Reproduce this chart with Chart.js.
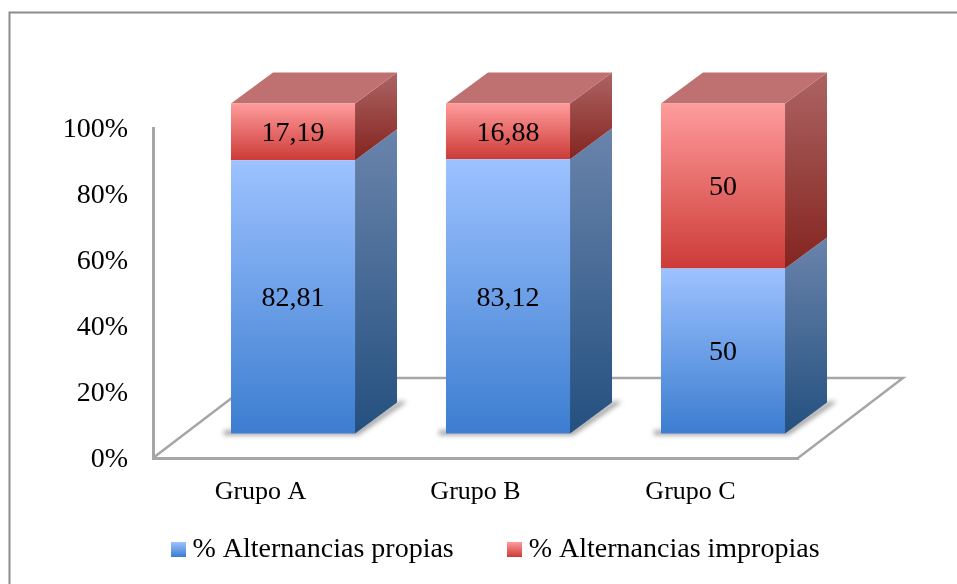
<!DOCTYPE html>
<html lang="es">
<head>
<meta charset="utf-8">
<title>Alternancias por grupo</title>
<style>
  html, body { margin: 0; padding: 0; background: #fff; }
  canvas { display: block; }
</style>
<script src="https://cdn.jsdelivr.net/npm/chart.js@4"></script>
</head>
<body>
<div style="width:957px;height:584px"><canvas id="grafico" width="957" height="584"></canvas></div>
<script>
const grupos = ['Grupo A', 'Grupo B', 'Grupo C'];
const propias = [82.81, 83.12, 50];
const impropias = [17.19, 16.88, 50];
const nombrePropias = '% Alternancias propias';
const nombreImpropias = '% Alternancias impropias';

const FONT = '"Liberation Serif", serif';
const FONT_SIZE = 26;
const NUMBER_SIZE = 28;
const LINE = '#A6A6A6';

// Oblique offset of the bars from the axis plane, of a bar's depth, and of the floor.
const BAR_SHIFT = { x: 32.5, y: -24.5 };
const BAR_DEPTH = { x: 42, y: -31 };
const FLOOR_DEPTH = { x: 105, y: -80 };

const PALETTE = [
  { front: ['#9DC2FF', '#3C7DD0'], side: ['#6A84AC', '#24507F'], swatch: ['#9DC2FF', '#3C7DD0'] },
  { front: ['#FF9C9C', '#CC3B37'], side: ['#AC6464', '#84241F'], top: '#BF7171', swatch: ['#FF9C9C', '#CC3B37'] }
];

function verticalGradient(ctx, y0, y1, stops) {
  const g = ctx.createLinearGradient(0, y0, 0, y1);
  g.addColorStop(0, stops[0]);
  g.addColorStop(1, stops[1]);
  return g;
}

// Bar fill: the gradient spans each stacked segment on its own.
function segmentFill(datasetIndex) {
  return (c) => {
    const chart = c.chart;
    const y = chart.scales.y;
    if (!y || c.type !== 'data') return PALETTE[datasetIndex].front[0];
    const start = datasetIndex === 0 ? 0 : propias[c.dataIndex];
    const end = start + c.raw;
    return verticalGradient(chart.ctx, y.getPixelForValue(end), y.getPixelForValue(start), PALETTE[datasetIndex].front);
  };
}

function legendSwatch(stops) {
  const size = 15;
  const cv = document.createElement('canvas');
  cv.width = size;
  cv.height = size;
  const c = cv.getContext('2d');
  c.fillStyle = verticalGradient(c, 0, size, stops);
  c.fillRect(0, 0, size, size);
  return cv;
}

function polygon(ctx, pts) {
  ctx.beginPath();
  pts.forEach((p, i) => (i ? ctx.lineTo(p[0], p[1]) : ctx.moveTo(p[0], p[1])));
  ctx.closePath();
}

// Panel frame, floor of the 3D plot, bar shadows and depth faces of the bars.
const prisma = {
  id: 'prisma',
  beforeLayout(chart) {
    const legend = chart.legend;
    if (legend && !legend.$ajustada) {
      const fit = legend.fit;
      legend.fit = function () { fit.call(this); this.height = 60; };
      legend.$ajustada = true;
    }
  },
  afterLayout(chart) {
    const legend = chart.legend;
    const pad = legend.options.labels.padding;
    legend.left = 177.5 - pad;
    legend.right = chart.width;
    legend.top = 535.5 - pad;
    legend.bottom = chart.height;
  },
  beforeDraw(chart) {
    const ctx = chart.ctx;
    ctx.save();
    ctx.strokeStyle = '#8C8C8C';
    ctx.lineWidth = 2;
    ctx.beginPath();
    ctx.moveTo(9.5, chart.height);
    ctx.lineTo(9.5, 12.5);
    ctx.lineTo(chart.width, 12.5);
    ctx.stroke();
    ctx.restore();
  },
  beforeDatasetsDraw(chart) {
    const ctx = chart.ctx;
    const a = chart.chartArea;
    ctx.save();
    ctx.strokeStyle = LINE;
    ctx.lineWidth = 2.5;
    ctx.beginPath();
    ctx.moveTo(a.left, a.bottom);
    ctx.lineTo(a.left + FLOOR_DEPTH.x, a.bottom + FLOOR_DEPTH.y);
    ctx.lineTo(a.right + FLOOR_DEPTH.x, a.bottom + FLOOR_DEPTH.y);
    ctx.lineTo(a.right, a.bottom);
    ctx.stroke();
    ctx.restore();

    const lower = chart.getDatasetMeta(0).data;
    const upper = chart.getDatasetMeta(1).data;
    ctx.save();
    ctx.translate(BAR_SHIFT.x, BAR_SHIFT.y);

    lower.forEach((bar) => {
      const l = bar.x - bar.width / 2;
      const r = bar.x + bar.width / 2;
      const b = bar.base;
      ctx.save();
      ctx.filter = 'blur(2.5px)';
      ctx.fillStyle = 'rgba(50,50,50,0.5)';
      polygon(ctx, [[l - 7, b - 3], [r, b - 3], [r + BAR_DEPTH.x + 2, b + BAR_DEPTH.y - 1], [r + BAR_DEPTH.x + 10, b + BAR_DEPTH.y - 1], [r + 3, b + 1.5], [l - 7, b + 1.5]]);
      ctx.fill();
      ctx.restore();
    });

    [chart.getDatasetMeta(0), chart.getDatasetMeta(1)].forEach((meta, d) => {
      meta.data.forEach((bar) => {
        const r = bar.x + bar.width / 2;
        const t = bar.y;
        const b = bar.base;
        ctx.fillStyle = verticalGradient(ctx, t + BAR_DEPTH.y, b, PALETTE[d].side);
        polygon(ctx, [[r, t], [r + BAR_DEPTH.x, t + BAR_DEPTH.y], [r + BAR_DEPTH.x, b + BAR_DEPTH.y], [r, b]]);
        ctx.fill();
      });
    });

    upper.forEach((bar) => {
      const l = bar.x - bar.width / 2;
      const r = bar.x + bar.width / 2;
      const t = bar.y;
      ctx.fillStyle = PALETTE[1].top;
      polygon(ctx, [[l, t], [r, t], [r + BAR_DEPTH.x, t + BAR_DEPTH.y], [l + BAR_DEPTH.x, t + BAR_DEPTH.y]]);
      ctx.fill();
    });
  },
  afterDatasetsDraw(chart) {
    const ctx = chart.ctx;
    ctx.save();
    ctx.fillStyle = '#000';
    ctx.font = NUMBER_SIZE + 'px ' + FONT;
    ctx.textAlign = 'center';
    ctx.textBaseline = 'middle';
    chart.data.datasets.forEach((ds, d) => {
      chart.getDatasetMeta(d).data.forEach((bar, i) => {
        ctx.fillText(String(ds.data[i]).replace('.', ','), bar.x, (bar.y + bar.base) / 2 + 2);
      });
    });
    ctx.restore();
    ctx.restore();
  }
};

new Chart(document.getElementById('grafico'), {
  type: 'bar',
  data: {
    labels: grupos,
    datasets: [
      { label: nombrePropias, data: propias, backgroundColor: segmentFill(0), clip: false },
      { label: nombreImpropias, data: impropias, backgroundColor: segmentFill(1), clip: false }
    ]
  },
  options: {
    responsive: false,
    animation: false,
    events: [],
    layout: { padding: { top: 128, left: 0, right: 159, bottom: 0 } },
    datasets: { bar: { categoryPercentage: 1, barPercentage: 0.577, borderWidth: 0 } },
    scales: {
      x: {
        stacked: true,
        grid: { display: false, drawTicks: false },
        border: { color: LINE, width: 3 },
        ticks: { color: '#000', font: { family: FONT, size: FONT_SIZE }, padding: 19, maxRotation: 0 },
        afterFit: (s) => { s.height = 66; }
      },
      y: {
        stacked: true,
        min: 0,
        max: 100,
        grid: { display: false, drawTicks: false },
        border: { color: LINE, width: 3 },
        ticks: {
          stepSize: 20,
          color: '#000',
          padding: 25,
          labelOffset: 2,
          font: { family: FONT, size: NUMBER_SIZE },
          callback: (v) => v + '%'
        },
        afterFit: (s) => { s.width = 153; }
      }
    },
    plugins: {
      tooltip: { enabled: false },
      title: { display: false },
      legend: {
        position: 'bottom',
        align: 'start',
        labels: {
          color: '#000',
          font: { family: FONT, size: NUMBER_SIZE },
          usePointStyle: true,
          pointStyleWidth: 1,
          padding: 60,
          generateLabels: (chart) => chart.data.datasets.map((ds, i) => ({
            text: ds.label,
            datasetIndex: i,
            pointStyle: legendSwatch(PALETTE[i].swatch),
            fontColor: '#000',
            lineWidth: 0
          }))
        }
      }
    }
  },
  plugins: [prisma]
});
</script>
</body>
</html>
